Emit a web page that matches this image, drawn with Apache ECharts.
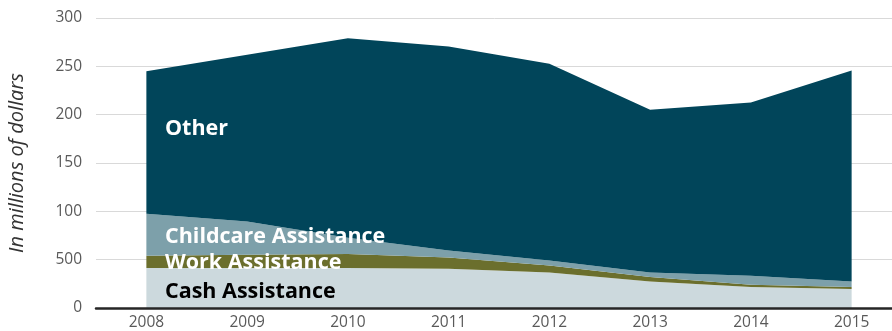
<!DOCTYPE html>
<html>
<head>
<meta charset="utf-8">
<script src="https://cdn.jsdelivr.net/npm/echarts@6/dist/echarts.min.js"></script>
<style>
  html, body { margin: 0; padding: 0; background: #ffffff; }
  #chart { width: 892px; height: 331px; }
</style>
</head>
<body>
<div id="chart"></div>
<script>
// Program spending by category, in millions of dollars
const years = ['2008', '2009', '2010', '2011', '2012', '2013', '2014', '2015'];
const cashAssistance = [41.4, 41.5, 41.4, 40.6, 36.8, 27.5, 21.7, 19.6];
const workAssistance = [12.6, 13.5, 14.4, 11.7, 7.2, 4.5, 2.3, 2.1];
const childcareAssistance = [43.5, 34.6, 16.9, 7.3, 5.2, 4.8, 9.4, 5.8];
const otherSpending = [147.5, 172.4, 206.3, 210.9, 203.4, 168.2, 179.2, 218.2];
const yTickLabels = { 0: '0', 50: '500', 100: '100', 150: '150', 200: '200', 250: '250', 300: '300' };

const FONT = '"Open Sans", sans-serif';

function stackedArea(name, data, color) {
  return {
    name: name,
    type: 'line',
    stack: 'total',
    data: data,
    symbol: 'none',
    lineStyle: { width: 0 },
    areaStyle: { color: color, opacity: 1 },
    itemStyle: { color: color },
    silent: true
  };
}

const chart = echarts.init(document.getElementById('chart'), null, { renderer: 'canvas' });
chart.setOption({
  animation: false,
  backgroundColor: '#ffffff',
  grid: { left: 96, top: 18, width: 806, height: 290, outerBoundsMode: 'none', containLabel: false },
  xAxis: {
    type: 'category',
    data: years,
    boundaryGap: true,
    axisTick: { show: false },
    axisLine: { lineStyle: { color: '#262626', width: 2.5 } },
    axisLabel: { color: '#595959', fontFamily: FONT, fontSize: 15.5, margin: 7 },
    z: 10
  },
  yAxis: {
    type: 'value',
    min: 0,
    max: 300,
    interval: 50,
    name: 'In millions of dollars',
    nameLocation: 'middle',
    nameRotate: 90,
    nameGap: 69,
    nameTextStyle: { color: '#333333', fontFamily: FONT, fontSize: 20, fontStyle: 'italic' },
    axisLine: { show: false },
    axisTick: { show: false },
    axisLabel: {
      color: '#595959', fontFamily: FONT, fontSize: 15.5, margin: 14,
      formatter: v => yTickLabels[v]
    },
    splitLine: { lineStyle: { color: '#d9d9d9', width: 1 } }
  },
  series: [
    stackedArea('Cash Assistance', cashAssistance, '#ccd9dd'),
    stackedArea('Work Assistance', workAssistance, '#6b6f2d'),
    stackedArea('Childcare Assistance', childcareAssistance, '#7da0aa'),
    stackedArea('Other', otherSpending, '#01455a')
  ],
  graphic: [
    { type: 'text', left: 165, top: 118, z: 100,
      style: { text: 'Other', fill: '#ffffff', font: 'bold 21.5px ' + FONT } },
    { type: 'text', left: 165, top: 226, z: 100,
      style: { text: 'Childcare Assistance', fill: '#ffffff', font: 'bold 21.5px ' + FONT } },
    { type: 'text', left: 165, top: 252, z: 100,
      style: { text: 'Work Assistance', fill: '#ffffff', font: 'bold 21.5px ' + FONT } },
    { type: 'text', left: 165, top: 281, z: 100,
      style: { text: 'Cash Assistance', fill: '#000000', font: 'bold 21.5px ' + FONT } }
  ]
});
</script>
</body>
</html>
